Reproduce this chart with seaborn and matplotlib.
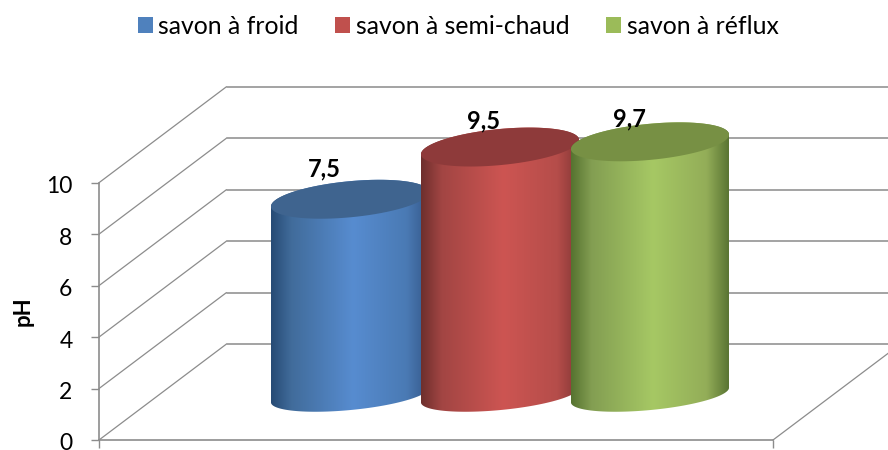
import matplotlib
matplotlib.use('Agg')

import numpy as np
import pandas as pd
import matplotlib.pyplot as plt
import seaborn as sns
from matplotlib.patches import Patch, Polygon
from matplotlib.transforms import ScaledTranslation

# DATA
savons = ['savon à froid', 'savon à semi-chaud', 'savon à réflux']
ph_values = [7.5, 9.5, 9.7]
ph_labels = ['7,5', '9,5', '9,7']
y_ticks = [0, 2, 4, 6, 8, 10]

# STYLE
base_colors = ['#4f81bd', '#c0504d', '#9bbb59']
top_colors = ['#3f648f', '#8e3a3a', '#779044']
side_colors = [
    ['#274b75', '#416c9b', '#578cd0', '#4a7ab4', '#34588a'],
    ['#6e2f2d', '#a24543', '#cd5552', '#b54d4a', '#823634'],
    ['#567330', '#839e52', '#a6c864', '#93ad58', '#5a7533'],
]
label_offsets = [(-26, 30), (-16, 26), (-21, 23)]
stops = [0, 0.13, 0.52, 0.86, 1]
grid_color = '#9c9c9c'
axis_color = '#8c8c8c'

W, H = 888, 450
DPI = 100
px_x = 150.0    # px per category
px_y = 26.1     # px per pH unit, bars
base_px = 395   # bars baseline
first_px = 350  # first bar center
a, b_top, b_low = 79.4, 18.0, 15.0
tilt = np.deg2rad(5.5)


def half_ellipse(cx, cy, b, t0, t1):
    t = np.linspace(t0, t1, 80)
    dx = a * np.cos(t) * np.cos(tilt) - b * np.sin(t) * np.sin(tilt)
    dy = a * np.cos(t) * np.sin(tilt) + b * np.sin(t) * np.cos(tilt)
    return np.column_stack([cx + dx / px_x, cy + dy / px_y])


if __name__ == "__main__":
    sns.set_theme(style='white')
    plt.rcParams['font.family'] = ['Lato', 'DejaVu Sans']

    df = pd.DataFrame({'savon': savons, 'pH': ph_values})
    fig = plt.figure(figsize=(W / DPI, H / DPI), dpi=DPI)

    # WALLS AND AXIS
    y0, y10 = 440, 182.7
    ax = fig.add_axes([99 / W, (H - y0) / H, (W - 99) / W, (y0 - y10) / H])
    ax.set_xlim(99, W)
    ax.set_ylim(0, 10)
    depth_x, depth_y = 127.5, 96 / ((y0 - y10) / 10)
    for v in y_ticks:
        ax.plot([99, 99 + depth_x], [v, v + depth_y], color=axis_color, lw=0.9, clip_on=False)
        ax.plot([99 + depth_x, W + 20], [v + depth_y, v + depth_y], color=grid_color, lw=1.3, clip_on=False)
    ax.plot([773, 773 + depth_x], [0, depth_y], color=axis_color, lw=0.9, clip_on=False)
    ax.set_yticks(y_ticks)
    ax.set_xticks([99, 773])
    ax.set_xticklabels([])
    ax.tick_params(axis='y', length=6, width=1.0, color=axis_color, pad=13, labelsize=16.5, left=True, labelcolor='black')
    ax.tick_params(axis='x', length=6, width=1.0, color=axis_color, bottom=True)
    shift = ScaledTranslation(0, -2 / DPI, fig.dpi_scale_trans)
    for lab in ax.get_yticklabels():
        lab.set_transform(lab.get_transform() + shift)
    sns.despine(ax=ax, top=True, right=True)
    ax.spines['left'].set_color(axis_color)
    ax.spines['bottom'].set_color(axis_color)
    ax.spines['left'].set_linewidth(1.2)
    ax.spines['bottom'].set_linewidth(1.2)
    ax.spines['bottom'].set_bounds(99, 773)
    ax.set_ylabel('pH', fontsize=16, fontweight='bold', color='black', labelpad=9)

    # BARS
    bar_ax = fig.add_axes([0, 0, 1, 1], facecolor='none')
    sns.barplot(data=df, x='savon', y='pH', hue='savon', palette=base_colors, dodge=False,
                width=158 / px_x, legend=False, ax=bar_ax)
    xlim = (-first_px / px_x, (W - first_px) / px_x)
    ylim = (-(H - base_px) / px_y, base_px / px_y)
    for i, patch in enumerate(list(bar_ax.patches)):
        cx = patch.get_x() + patch.get_width() / 2
        h = patch.get_height()
        patch.set_visible(False)

        # round body with shaded sides
        low = half_ellipse(cx, 0, b_low, np.pi, 2 * np.pi)
        up = half_ellipse(cx, h, b_top, 0, np.pi)
        body = Polygon(np.vstack([low, up]), closed=True, transform=bar_ax.transData)
        shade = np.array([[matplotlib.colors.to_rgb(c) for c in side_colors[i]]])
        cols = np.linspace(0, 1, 200)
        grad = np.stack([np.interp(cols, stops, shade[0, :, k]) for k in range(3)], axis=1)[None, :, :]
        half = patch.get_width() / 2
        im = bar_ax.imshow(grad, extent=(cx - half, cx + half, -1, h + 1), aspect='auto',
                           interpolation='bilinear', zorder=2 + i)
        im.set_clip_path(body)

        # top cap
        cap = half_ellipse(cx, h, b_top, 0, 2 * np.pi)
        bar_ax.add_patch(Polygon(cap, closed=True, facecolor=top_colors[i], edgecolor='none', zorder=2 + i))

        bar_ax.annotate(ph_labels[i], (cx, h), xytext=(label_offsets[i][0] * 72 / DPI, label_offsets[i][1] * 72 / DPI),
                        textcoords='offset points', ha='center', va='center',
                        fontsize=17, fontweight='bold', color='black', zorder=10)
    bar_ax.set_xlim(*xlim)
    bar_ax.set_ylim(*ylim)
    bar_ax.axis('off')

    # LEGEND
    handles = [Patch(facecolor=c, edgecolor='none', label=s) for c, s in zip(base_colors, savons)]
    fig.legend(handles=handles, loc='center', bbox_to_anchor=(458 / W, 1 - 26.5 / H), ncol=3, frameon=False,
               fontsize=17.8, handlelength=0.607, handleheight=0.607, handletextpad=0.24, columnspacing=1.46,
               labelcolor='black', borderpad=0, borderaxespad=0)

    fig.savefig('out.png', dpi=DPI)
